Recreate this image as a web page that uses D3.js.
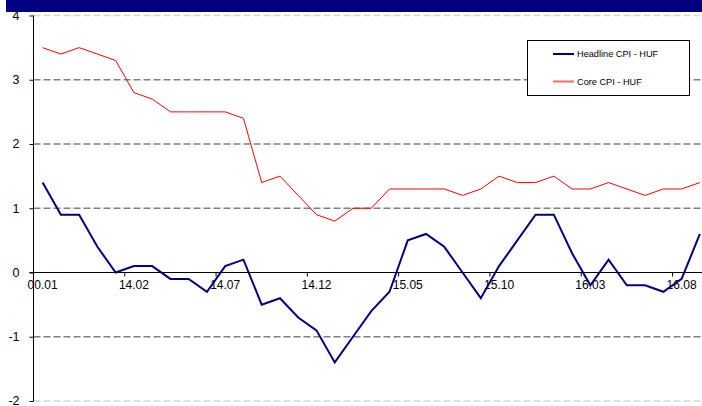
<!DOCTYPE html>
<html>
<head>
<meta charset="utf-8">
<script src="https://cdn.jsdelivr.net/npm/d3@7"></script>
<style>
  html, body { margin: 0; padding: 0; background: #fff; }
  svg { display: block; font-family: "Liberation Sans", Arial, sans-serif; }
</style>
</head>
<body>
<svg id="chart" width="702" height="406"></svg>
<script>
// Monthly periods (13.09 .. 16.09)
const categories = [
  "13.09","13.10","13.11","13.12","14.01","14.02","14.03","14.04","14.05","14.06",
  "14.07","14.08","14.09","14.10","14.11","14.12","15.01","15.02","15.03","15.04",
  "15.05","15.06","15.07","15.08","15.09","15.10","15.11","15.12","16.01","16.02",
  "16.03","16.04","16.05","16.06","16.07","16.08","16.09"
];

// Year-on-year inflation, %
const headlineCPI = [
  1.4, 0.9, 0.9, 0.4, 0.0, 0.1, 0.1, -0.1, -0.1, -0.3,
  0.1, 0.2, -0.5, -0.4, -0.7, -0.9, -1.4, -1.0, -0.6, -0.3,
  0.5, 0.6, 0.4, 0.0, -0.4, 0.1, 0.5, 0.9, 0.9, 0.3,
  -0.2, 0.2, -0.2, -0.2, -0.3, -0.1, 0.6
];
const coreCPI = [
  3.5, 3.4, 3.5, 3.4, 3.3, 2.8, 2.7, 2.5, 2.5, 2.5,
  2.5, 2.4, 1.4, 1.5, 1.2, 0.9, 0.8, 1.0, 1.0, 1.3,
  1.3, 1.3, 1.3, 1.2, 1.3, 1.5, 1.4, 1.4, 1.5, 1.3,
  1.3, 1.4, 1.3, 1.2, 1.3, 1.3, 1.4
];

// Category-axis labels shown every fifth period
const tickLabels = ["00.01","14.02","14.07","14.12","15.05","15.10","16.03","16.08"];
const yTicks = [-2, -1, 0, 1, 2, 3, 4];

const seriesNames = ["Headline CPI - HUF", "Core CPI - HUF"];
const seriesColors = ["#000080", "#ff0000"];
const seriesWidths = [2, 1];

const svg = d3.select("#chart");

// header band
svg.append("rect")
  .attr("x", 6).attr("y", 0).attr("width", 696).attr("height", 12)
  .attr("fill", "#000080");

const plotL = 33.5, plotR = 709, plotT = 15.5, plotB = 401;

const x = d3.scaleBand().domain(categories).range([plotL, plotR]).paddingInner(0).paddingOuter(0);
const y = d3.scaleLinear().domain([-2, 4]).range([plotB, plotT]);
const cx = d => x(d) + x.bandwidth() / 2;

// horizontal gridlines
const grid = svg.append("g");
grid.selectAll("line")
  .data(yTicks.filter(v => v !== 0))
  .join("line")
  .attr("x1", plotL).attr("x2", plotR)
  .attr("y1", d => y(d)).attr("y2", d => y(d))
  .attr("stroke", d => (d === 4 || d === -2) ? "#d8d8d8" : "#808080")
  .attr("stroke-width", 1.5)
  .attr("stroke-dasharray", "7,3");

// y axis
const yAxis = d3.axisLeft(y).tickValues(yTicks).tickSize(4).tickPadding(10)
  .tickFormat(d => String(d));
const gy = svg.append("g").attr("transform", `translate(${plotL},0)`).call(yAxis);
gy.select(".domain").attr("stroke", "#000").attr("d", `M0,${plotT}V${plotB}`);
gy.selectAll(".tick line").attr("stroke", "#000");
gy.selectAll(".tick text")
  .attr("font-size", "12.5px").attr("fill", "#000")
  .attr("dy", "0.3em")
  .attr("font-family", "Liberation Sans, Arial, sans-serif");

// x axis on zero line: labels at period centres, ticks at period boundaries
const labelCats = categories.filter((c, i) => i % 5 === 0);
const xAxis = d3.axisBottom(x).tickValues(labelCats).tickSize(0).tickPadding(8)
  .tickFormat((d, i) => tickLabels[i]);
const gx = svg.append("g").attr("transform", `translate(0,${y(0)})`).call(xAxis);
gx.select(".domain").remove();
gx.selectAll(".tick text")
  .attr("font-size", "12px").attr("fill", "#000")
  .attr("font-family", "Liberation Sans, Arial, sans-serif");

svg.append("line")
  .attr("x1", plotL - 4).attr("x2", plotR)
  .attr("y1", y(0)).attr("y2", y(0))
  .attr("stroke", "#000").attr("stroke-width", 1);

svg.append("g").selectAll("line")
  .data(labelCats.slice(1))
  .join("line")
  .attr("x1", d => x(d)).attr("x2", d => x(d))
  .attr("y1", y(0)).attr("y2", y(0) + 4)
  .attr("stroke", "#000");

// series lines
const series = [headlineCPI, coreCPI];
const lineGen = d3.line()
  .x((d, i) => cx(categories[i]))
  .y(d => y(d));

[1, 0].forEach(k => {
  svg.append("path")
    .datum(series[k])
    .attr("d", lineGen)
    .attr("fill", "none")
    .attr("stroke", seriesColors[k])
    .attr("stroke-width", seriesWidths[k])
    .attr("stroke-linejoin", "miter");
});

// legend
const lg = svg.append("g");
lg.append("rect")
  .attr("x", 527.5).attr("y", 40.5).attr("width", 162).attr("height", 55)
  .attr("fill", "#fff").attr("stroke", "#000").attr("stroke-width", 1);
seriesNames.forEach((name, k) => {
  const ly = 54 + k * 27.5;
  lg.append("line")
    .attr("x1", 553).attr("x2", 574).attr("y1", ly).attr("y2", ly)
    .attr("stroke", seriesColors[k]).attr("stroke-width", 2)
    .attr("stroke-opacity", k === 1 ? 0.6 : 1);
  lg.append("text")
    .attr("x", 577).attr("y", ly + 3.2)
    .attr("font-size", "9.2px").attr("fill", "#000")
    .text(name);
});
</script>
</body>
</html>
